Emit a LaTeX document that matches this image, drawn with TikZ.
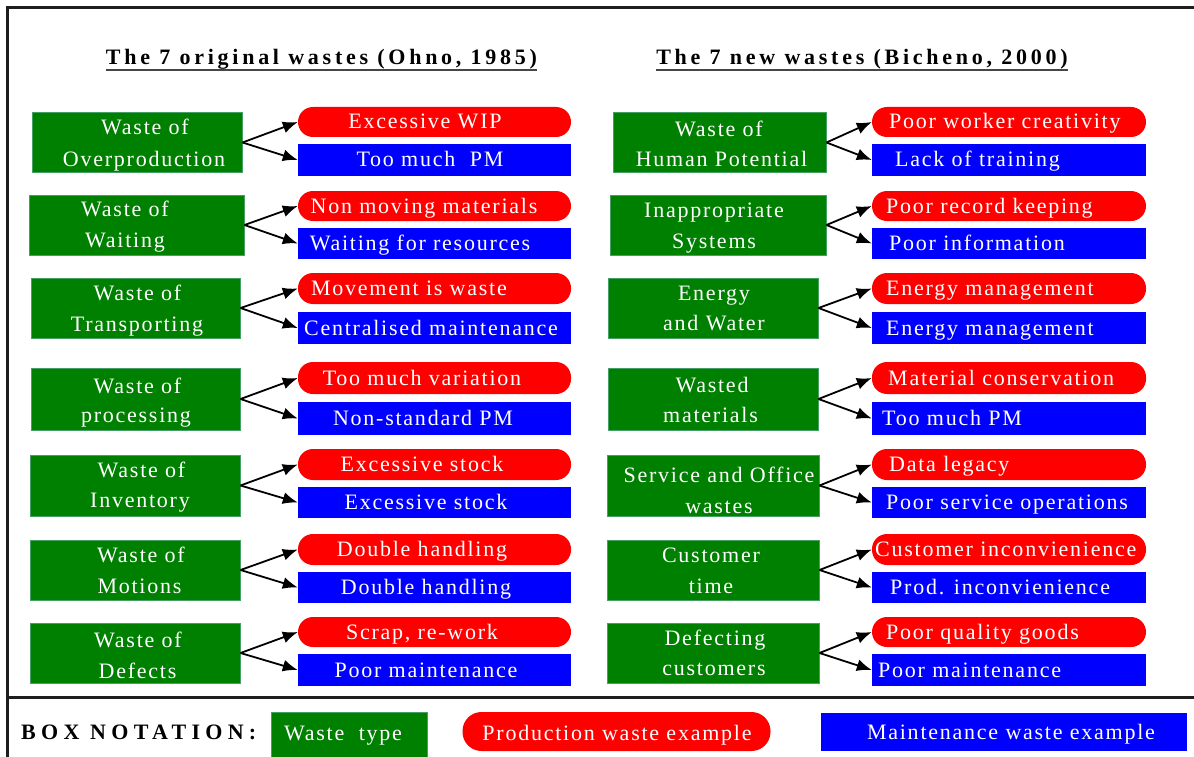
\documentclass[tikz,border=0pt]{standalone}
\usepackage{fontspec}
\setmainfont{Liberation Serif}
\newfontfamily\boxfont{Liberation Serif}[LetterSpace=8]
\newfontfamily\headfont{Liberation Serif}[LetterSpace=17]
\newfontfamily\notefont{Liberation Serif}[LetterSpace=24]
\usetikzlibrary{arrows.meta}
\definecolor{wgreen}{RGB}{0,128,0}
\definecolor{wgreenedge}{RGB}{70,160,100}
\definecolor{wred}{RGB}{255,0,0}
\definecolor{wblue}{RGB}{0,0,255}
\definecolor{framecol}{RGB}{30,30,30}
\definecolor{ulcol}{RGB}{70,70,70}
\begin{document}
\begin{tikzpicture}[x=1pt,y=-1pt,
  gbox/.style={draw=wgreenedge, line width=1pt, fill=wgreen, inner sep=0pt, rectangle},
  rbox/.style={fill=wred, rounded corners=15pt, inner sep=0pt, rectangle},
  bbox/.style={fill=wblue, inner sep=0pt, rectangle},
  sz/.style 2 args={minimum width=#1pt, minimum height=#2pt},
  txt/.style={text=white, font=\boxfont\fontsize{22}{26}\selectfont, inner sep=0pt, anchor=base},
  ltxt/.style={txt, anchor=base west},
  head/.style={text=black, font=\headfont\bfseries\fontsize{22}{26}\selectfont, inner sep=0pt, anchor=base},
  arr/.style={-{Latex[length=15pt,width=12pt]}, line width=1.8pt, black},
  frameline/.style={line width=3pt, framecol},
]
\useasboundingbox (0,0) rectangle (1194,757);
% frame
\coordinate (ftl) at (7,8);
\coordinate (ftr) at (1200,8);
\coordinate (fbl) at (7,760);
\coordinate (fsl) at (7,697);
\coordinate (fsr) at (1200,697);
\draw[frameline] (ftr) -- (ftl) -- (fbl);
\draw[frameline] (fsl) -- (fsr);

% titles
\node[head] (t1) at (321.5,65) {The 7 original wastes (Ohno, 1985)};
\node[head] (t2) at (862,65) {The 7 new wastes (Bicheno, 2000)};
\draw[line width=2pt, ulcol] ([yshift=-5pt]t1.base west) -- ([yshift=-5pt]t1.base east);
\draw[line width=2pt, ulcol] ([yshift=-5pt]t2.base west) -- ([yshift=-5pt]t2.base east);

% ================= LEFT COLUMN =================
% row 1
\node[gbox, sz={210}{59}] (g1) at (137,142.5) {};
\node[txt] (g1a) at (145,135) {Waste of};
\node[txt] (g1b) at (144,167) {Overproduction};
\node[rbox, sz={273}{30}] (r1) at (434.5,122) {};
\node[txt] (r1t) at (425,129) {Excessive WIP};
\node[bbox, sz={273}{32}] (b1) at (434.5,160) {};
\node[txt] (b1t) at (430,167) {Too much\ \ PM};
% row 2
\node[gbox, sz={215}{60}] (g2) at (136.5,225) {};
\node[txt] (g2a) at (125,216) {Waste of};
\node[txt] (g2b) at (125,247) {Waiting};
\node[rbox, sz={273}{30}] (r2) at (434.5,206) {};
\node[txt] (r2t) at (424,213) {Non moving materials};
\node[bbox, sz={273}{31}] (b2) at (434.5,243.5) {};
\node[txt] (b2t) at (420,250.5) {Waiting for resources};
% row 3
\node[gbox, sz={209}{60}] (g3) at (135.5,308) {};
\node[txt] (g3a) at (137.5,300) {Waste of};
\node[txt] (g3b) at (137,331) {Transporting};
\node[rbox, sz={273}{31}] (r3) at (434.5,288.5) {};
\node[txt] (r3t) at (409,295.5) {Movement is waste};
\node[bbox, sz={273}{32}] (b3) at (434.5,328) {};
\node[txt] (b3t) at (431,335) {Centralised maintenance};
% row 4
\node[gbox, sz={209}{62}] (g4) at (135.5,399) {};
\node[txt] (g4a) at (137.5,393) {Waste of};
\node[txt] (g4b) at (136,422) {processing};
\node[rbox, sz={273}{32}] (r4) at (434.5,378) {};
\node[txt] (r4t) at (422,385) {Too much variation};
\node[bbox, sz={273}{33}] (b4) at (434.5,418.5) {};
\node[txt] (b4t) at (423,425.5) {Non-standard PM};
% row 5
\node[gbox, sz={210}{61}] (g5) at (135,485.5) {};
\node[txt] (g5a) at (141.5,477) {Waste of};
\node[txt] (g5b) at (140,507) {Inventory};
\node[rbox, sz={273}{31}] (r5) at (434.5,464.5) {};
\node[txt] (r5t) at (422,471.5) {Excessive stock};
\node[bbox, sz={273}{31}] (b5) at (434.5,502.5) {};
\node[txt] (b5t) at (426,509.5) {Excessive stock};
% row 6
\node[gbox, sz={210}{60}] (g6) at (135,570) {};
\node[txt] (g6a) at (141,562) {Waste of};
\node[txt] (g6b) at (139.5,593) {Motions};
\node[rbox, sz={273}{31}] (r6) at (434.5,549.5) {};
\node[txt] (r6t) at (422,556.5) {Double handling};
\node[bbox, sz={273}{31}] (b6) at (434.5,587.5) {};
\node[txt] (b6t) at (426,594.5) {Double handling};
% row 7
\node[gbox, sz={210}{60}] (g7) at (135,653) {};
\node[txt] (g7a) at (138,647) {Waste of};
\node[txt] (g7b) at (137.5,678) {Defects};
\node[rbox, sz={273}{30}] (r7) at (434.5,632) {};
\node[txt] (r7t) at (422,639) {Scrap, re-work};
\node[bbox, sz={273}{32}] (b7) at (434.5,670) {};
\node[txt] (b7t) at (426,677) {Poor maintenance};

% ================= RIGHT COLUMN =================
% row 1
\node[gbox, sz={213}{59}] (h1) at (719.5,142.5) {};
\node[txt] (h1a) at (719,137) {Waste of};
\node[txt] (h1b) at (721.5,167) {Human Potential};
\node[rbox, sz={274}{30}] (s1) at (1009,122) {};
\node[ltxt] (s1t) at (889,129) {Poor worker creativity};
\node[bbox, sz={274}{32}] (c1) at (1009,160) {};
\node[ltxt] (c1t) at (895,167) {Lack of training};
% row 2
\node[gbox, sz={216}{60}] (h2) at (718,225) {};
\node[txt] (h2a) at (714,217) {Inappropriate};
\node[txt] (h2b) at (714,248) {Systems};
\node[rbox, sz={274}{30}] (s2) at (1009,206) {};
\node[ltxt] (s2t) at (886,213) {Poor record keeping};
\node[bbox, sz={274}{31}] (c2) at (1009,243.5) {};
\node[ltxt] (c2t) at (889,250.5) {Poor information};
% row 3
\node[gbox, sz={210}{60}] (h3) at (713,308) {};
\node[txt] (h3a) at (714,300) {Energy};
\node[txt] (h3b) at (714,330) {and Water};
\node[rbox, sz={274}{31}] (s3) at (1009,288.5) {};
\node[ltxt] (s3t) at (886,295.5) {Energy management};
\node[bbox, sz={274}{32}] (c3) at (1009,328) {};
\node[ltxt] (c3t) at (886,335) {Energy management};
% row 4
\node[gbox, sz={210}{62}] (h4) at (713,399) {};
\node[txt] (h4a) at (712,392) {Wasted};
\node[txt] (h4b) at (710.5,422) {materials};
\node[rbox, sz={274}{32}] (s4) at (1009,378) {};
\node[ltxt] (s4t) at (888,385) {Material conservation};
\node[bbox, sz={274}{33}] (c4) at (1009,418.5) {};
\node[ltxt] (c4t) at (882,425.5) {Too much PM};
% row 5
\node[gbox, sz={212}{61}] (h5) at (713,485.5) {};
\node[txt] (h5a) at (719,482) {Service and Office};
\node[txt] (h5b) at (719,513) {wastes};
\node[rbox, sz={274}{31}] (s5) at (1009,464.5) {};
\node[ltxt] (s5t) at (889,471.5) {Data legacy};
\node[bbox, sz={274}{31}] (c5) at (1009,502.5) {};
\node[ltxt] (c5t) at (886,509.5) {Poor service operations};
% row 6
\node[gbox, sz={212}{60}] (h6) at (713,570) {};
\node[txt] (h6a) at (711,562) {Customer};
\node[txt] (h6b) at (711,593) {time};
\node[rbox, sz={274}{31}] (s6) at (1009,549.5) {};
\node[ltxt] (s6t) at (875,556.5) {Customer inconvienience};
\node[bbox, sz={274}{31}] (c6) at (1009,587.5) {};
\node[ltxt] (c6t) at (890,594.5) {Prod. inconvienience};
% row 7
\node[gbox, sz={212}{60}] (h7) at (713,653) {};
\node[txt] (h7a) at (715,645) {Defecting};
\node[txt] (h7b) at (714,675) {customers};
\node[rbox, sz={274}{30}] (s7) at (1009,632) {};
\node[ltxt] (s7t) at (886,639) {Poor quality goods};
\node[bbox, sz={274}{32}] (c7) at (1009,670) {};
\node[ltxt] (c7t) at (878,677) {Poor maintenance};

% arrows
\foreach \i in {1,...,7} {
  \draw[arr] (g\i.east) -- (r\i.west);
  \draw[arr] (g\i.east) -- (b\i.west);
  \draw[arr] (h\i.east) -- (s\i.west);
  \draw[arr] (h\i.east) -- (c\i.west);
}

% legend
\node[text=black, font=\notefont\bfseries\fontsize{22}{26}\selectfont, inner sep=0pt, anchor=base west] (bn) at (21,739) {BOX NOTATION:};
\node[gbox, sz={156}{50}] (lg) at (349,737) {};
\node[txt] (lgt) at (343,740) {Waste\ \ type};
\node[rbox, rounded corners=19pt, sz={308}{39}] (lr) at (616.5,731.5) {};
\node[txt] (lrt) at (617,740) {Production waste example};
\node[bbox, sz={366}{38}] (lb) at (1004,732) {};
\node[txt] (lbt) at (1011,739) {Maintenance waste example};
\end{tikzpicture}
\end{document}
